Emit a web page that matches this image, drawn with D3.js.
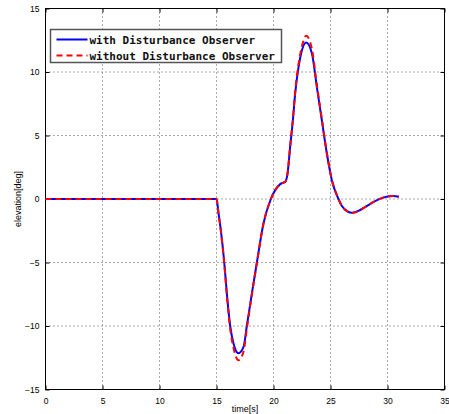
<!DOCTYPE html>
<html>
<head>
<meta charset="utf-8">
<script src="https://cdn.jsdelivr.net/npm/d3@7"></script>
<style>
  body { margin: 0; background: #fff; }
</style>
</head>
<body>
<div id="chart"></div>
<script>
// time samples [s]
const times = [0, 14.9, 15, 15.18, 15.38, 15.68, 15.91, 16.2, 16.5, 16.93, 17.37, 17.66, 18.1, 18.54,
  19.12, 19.77, 20.15, 20.59, 21.03, 21.23, 21.46, 21.7, 21.9, 22.2, 22.49, 22.87, 23.37, 23.8,
  24.24, 24.68, 25.12, 25.7, 26, 26.5, 26.9, 27.5, 28, 28.5, 29, 29.5, 30, 30.5, 31];
// elevation [deg], with disturbance observer
const withDob = [0, 0, 0, -1.14, -2.46, -5, -7.45, -10, -11.4, -12.15, -11.65, -10, -7.45, -5,
  -1.93, 0, 0.7, 1.17, 1.35, 2.0, 4.1, 6.2, 8.3, 10.4, 11.7, 12.32, 11.45, 8.83,
  6.2, 3.58, 1.48, 0, -0.55, -0.98, -1.09, -0.92, -0.65, -0.38, -0.13, 0.07, 0.2, 0.24, 0.18];
// elevation [deg], without disturbance observer
const withoutDob = [0, 0, 0, -1.16, -2.5, -5.1, -7.6, -10.2, -11.75, -12.7, -12.0, -10.2, -7.55, -5.05,
  -1.95, 0, 0.7, 1.17, 1.35, 2.0, 4.15, 6.3, 8.45, 10.65, 12.0, 12.85, 11.8, 9.0,
  6.3, 3.62, 1.5, 0, -0.56, -1.0, -1.11, -0.93, -0.66, -0.38, -0.13, 0.07, 0.2, 0.24, 0.18];
const xTicks = [0, 5, 10, 15, 20, 25, 30, 35];
const yTicks = [-15, -10, -5, 0, 5, 10, 15];
const legendLabels = ["with Disturbance Observer", "without Disturbance Observer"];

const W = 449, H = 414;
const margin = { top: 8.5, right: 4.5, bottom: 24.5, left: 45.5 };
const width = W - margin.left - margin.right;
const height = H - margin.top - margin.bottom;
const sans = "'Liberation Sans', Arial, sans-serif";

const svg = d3.select("#chart").append("svg").attr("width", W).attr("height", H);
const g = svg.append("g").attr("transform", `translate(${margin.left},${margin.top})`);

const x = d3.scaleLinear().domain([0, 35]).range([0, width]);
const y = d3.scaleLinear().domain([-15, 15]).range([height, 0]);

// grid
g.append("g").selectAll("line").data(xTicks.slice(1, -1)).enter().append("line")
  .attr("x1", d => x(d)).attr("x2", d => x(d)).attr("y1", 0).attr("y2", height)
  .attr("stroke", "#555").attr("stroke-dasharray", "1,3");
g.append("g").selectAll("line").data(yTicks.slice(1, -1)).enter().append("line")
  .attr("y1", d => y(d)).attr("y2", d => y(d)).attr("x1", 0).attr("x2", width)
  .attr("stroke", "#555").attr("stroke-dasharray", "1,3");

// axes with inward ticks
const fmt = d3.format("d");
function styleAxis(sel) {
  sel.select(".domain").remove();
  sel.attr("font-family", sans).attr("font-size", "8.5px");
  sel.selectAll("text").attr("fill", "#000");
  sel.selectAll("line").attr("stroke", "#000");
}
g.append("g").attr("transform", `translate(0,${height})`)
  .call(d3.axisBottom(x).tickValues(xTicks).tickFormat(fmt).tickSizeInner(-4).tickPadding(8))
  .call(styleAxis);
g.append("g")
  .call(d3.axisTop(x).tickValues(xTicks).tickFormat("").tickSizeInner(-4))
  .call(styleAxis);
g.append("g")
  .call(d3.axisLeft(y).tickValues(yTicks).tickFormat(fmt).tickSizeInner(-4).tickPadding(6))
  .call(styleAxis);
g.append("g").attr("transform", `translate(${width},0)`)
  .call(d3.axisRight(y).tickValues(yTicks).tickFormat("").tickSizeInner(-4))
  .call(styleAxis);

g.append("rect").attr("width", width).attr("height", height)
  .attr("fill", "none").attr("stroke", "#000");

// lines
const pts = vals => times.map((t, i) => [t, vals[i]]);
const line = d3.line().x(d => x(d[0])).y(d => y(d[1])).curve(d3.curveMonotoneX);
g.append("path").datum(pts(withDob)).attr("d", line)
  .attr("fill", "none").attr("stroke", "#0000ff").attr("stroke-width", 2);
g.append("path").datum(pts(withoutDob)).attr("d", line)
  .attr("fill", "none").attr("stroke", "#ff0000").attr("stroke-width", 2)
  .attr("stroke-dasharray", "6,4");

// legend
const lg = svg.append("g").attr("transform", "translate(50.5,29.5)");
lg.append("rect").attr("width", 231).attr("height", 33)
  .attr("fill", "#fff").attr("stroke", "#555").attr("stroke-width", 1.5);
const legendColors = ["#0000ff", "#ff0000"];
const legendDash = [null, "6,4"];
legendLabels.forEach((lab, i) => {
  const yy = 10 + i * 16;
  lg.append("line").attr("x1", 6).attr("x2", 37).attr("y1", yy).attr("y2", yy)
    .attr("stroke", legendColors[i]).attr("stroke-width", 2)
    .attr("stroke-dasharray", legendDash[i]);
  lg.append("text").attr("x", 39).attr("y", yy + 4)
    .attr("font-family", "'DejaVu Sans Mono', monospace").attr("font-weight", "bold")
    .attr("font-size", "11px").attr("fill", "#111").text(lab);
});

// axis labels
svg.append("text").attr("x", margin.left + x(17.5)).attr("y", 412)
  .attr("font-family", sans).attr("text-anchor", "middle").attr("font-size", "9px").text("time[s]");
svg.append("text").attr("transform", `translate(21,${margin.top + y(0)}) rotate(-90)`)
  .attr("font-family", sans).attr("text-anchor", "middle").attr("font-size", "9px").text("elevation[deg]");
</script>
</body>
</html>
